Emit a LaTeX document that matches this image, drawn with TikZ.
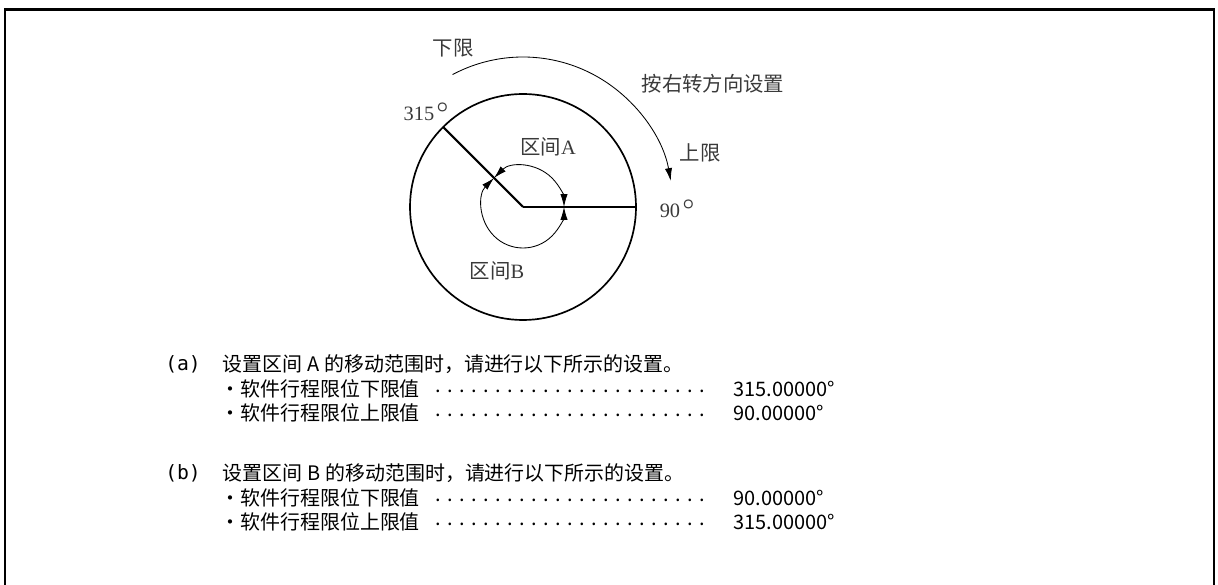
\documentclass[tikz,border=0pt]{standalone}
\usepackage{bm}
\usepackage{fontspec}
\setmainfont{Liberation Serif}
\newfontfamily\cjk{Noto Sans CJK SC}
\newfontfamily\casefont{DejaVu Sans Mono}
\usetikzlibrary{arrows.meta,positioning}
\definecolor{LabelInk}{HTML}{3A3A3A}
\newcommand{\dotrow}[1]{\hbox to #1{\leaders\hbox to 3mm{\hss.\hss}\hfill}}
\newcommand{\degmark}{\kern.12em\raisebox{.42em}{\fontsize{14}{14}\selectfont$\bm{\circ}$}}
\tikzset{>={Latex[length=3.2mm,width=1.8mm]},every node/.style={inner sep=0pt},
 lbl/.style={text=LabelInk,font=\fontsize{14.5}{17}\selectfont},
 note/.style={anchor=west,font=\cjk\fontsize{14.2}{17}\selectfont},
 rim/.style={line width=1.2pt},spoke/.style={line width=1.5pt},
 sweep/.style={line width=0.6pt,{Latex[length=3.2mm,width=1.8mm]}-{Latex[length=3.2mm,width=1.8mm]}}}

\begin{document}
\begin{tikzpicture}[x=0.025cm,y=0.025cm]
\useasboundingbox (0,0) rectangle (1218,585);
% frame, open at the bottom
\draw[line width=2.1pt] (5,0)--(5,575.5)--(1214,575.5)--(1214,0);

% dial
\coordinate (o) at (523,378);
\draw[rim] (o) circle[radius=113];
\path (o) ++(135:113) coordinate (p315);
\path (o) ++(0:113) coordinate (p90);
\draw[spoke] (o)--(p315);
\draw[spoke] (o)--(p90);
\draw[sweep] (o) ++(135:41) arc[start angle=135,end angle=0,radius=41];
\draw[sweep] (o) ++(135:41) arc[start angle=135,end angle=360,radius=41];
\draw[line width=0.6pt,->] (o) ++(118:150) arc[start angle=118,end angle=10,radius=150];

\node[lbl] (lower) at (453,537) {\cjk 下限};
\node[lbl] (dir) at (713,501) {\cjk 按右转方向设置};
\node[lbl] (deg315) at (426,473) {315\degmark};
\node[lbl] (zoneA) at (548,438) {{\cjk 区间}A};
\node[lbl] (upper) at (700,432) {\cjk 上限};
\node[lbl] (deg90) at (677,376) {90\degmark};
\node[lbl] (zoneB) at (497,314) {{\cjk 区间}B};

% settings
\node[note,font=\casefont\fontsize{14}{17}\selectfont] (caseA) at (165,221) {(a)};
\node[note] (textA) at (222,221) {设置区间\hspace{.25em}A\hspace{.25em}的移动范围时，请进行以下所示的设置。};
\node[note] (a1) at (220,196) {・软件行程限位下限值};
\node[note] (a1d) at (432,194) {\dotrow{6.9cm}};
\node[note] (a1v) at (733,196) {315.00000°};
\node[note] (a2) at (220,172) {・软件行程限位上限值};
\node[note] (a2d) at (432,170) {\dotrow{6.9cm}};
\node[note] (a2v) at (733,172) {90.00000°};

\node[note,font=\casefont\fontsize{14}{17}\selectfont] (caseB) at (165,112) {(b)};
\node[note] (textB) at (222,112) {设置区间\hspace{.25em}B\hspace{.25em}的移动范围时，请进行以下所示的设置。};
\node[note] (b1) at (220,87) {・软件行程限位下限值};
\node[note] (b1d) at (432,85) {\dotrow{6.9cm}};
\node[note] (b1v) at (733,87) {90.00000°};
\node[note] (b2) at (220,63) {・软件行程限位上限值};
\node[note] (b2d) at (432,61) {\dotrow{6.9cm}};
\node[note] (b2v) at (733,63) {315.00000°};
\end{tikzpicture}
\end{document}
